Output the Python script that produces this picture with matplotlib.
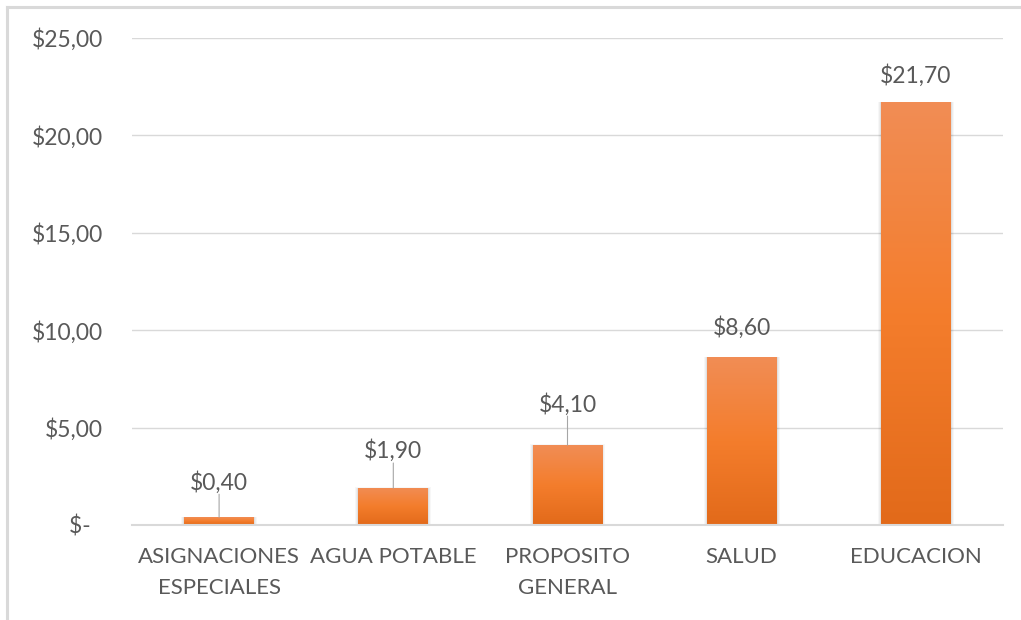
import matplotlib
matplotlib.use("Agg")
import matplotlib.pyplot as plt
import numpy as np
from matplotlib.colors import LinearSegmentedColormap
from matplotlib.patches import Rectangle
from matplotlib.lines import Line2D

categories = ["ASIGNACIONES\nESPECIALES", "AGUA POTABLE", "PROPOSITO\nGENERAL", "SALUD", "EDUCACION"]
values = [0.40, 1.90, 4.10, 8.60, 21.70]
value_labels = ["$0,40", "$1,90", "$4,10", "$8,60", "$21,70"]
yticks = [0, 5, 10, 15, 20, 25]
ytick_labels = ["$-  ", "$5,00", "$10,00", "$15,00", "$20,00", "$25,00"]

# label offsets above bar top (pixels) and whether a leader line is drawn
label_offsets_px = [35, 37, 41, 30, 27]
leaders = [True, True, True, False, False]

plt.rcParams['font.family'] = ['Lato', 'DejaVu Sans']
TXT = "#595959"
GRID = "#D9D9D9"

fig = plt.figure(figsize=(10.21, 6.2), dpi=100)
ax = fig.add_axes([132/1021, 1-525/620, (1003-132)/1021, (525-38)/620])

x = np.arange(len(categories))
bw = 0.40
bars = ax.bar(x, values, width=bw, color="none", edgecolor="none", zorder=3)

cmap = LinearSegmentedColormap.from_list("g", ["#E26A1A", "#F47D2C", "#F18D55"])
grad = np.linspace(0, 1, 256).reshape(-1, 1)
for b in bars:
    x0, w, h = b.get_x(), b.get_width(), b.get_height()
    # soft shadow
    for i, a in enumerate([0.05, 0.04, 0.03]):
        d = 0.006 * (i + 1)
        ax.add_patch(Rectangle((x0 - d, 0), w + 2*d, h + d*2, facecolor="black", alpha=a,
                               edgecolor="none", zorder=2))
    im = ax.imshow(grad, cmap=cmap, aspect="auto", origin="lower",
                   extent=[x0, x0 + w, 0, h], zorder=3)
    clip = Rectangle((x0, 0), w, h, transform=ax.transData)
    im.set_clip_path(clip)

ax.set_xlim(-0.5, len(categories) - 0.5)
ax.set_ylim(0, 25)
ax.set_yticks(yticks)
ax.set_yticklabels(ytick_labels)
ax.set_xticks(x)
ax.set_xticklabels(categories, linespacing=1.7)
ax.tick_params(axis="y", length=0, pad=21, labelsize=16.5, labelcolor=TXT)
ax.tick_params(axis="x", length=0, pad=16, labelsize=16, labelcolor=TXT)
ax.grid(axis="y", color=GRID, linewidth=1.0, zorder=0)
ax.set_axisbelow(True)
for s in ["top", "right", "left"]:
    ax.spines[s].set_visible(False)
ax.spines["bottom"].set_color(GRID)
ax.spines["bottom"].set_linewidth(1.5)
ax.spines["bottom"].set_zorder(4)

for xi, v, lab, off, ld in zip(x, values, value_labels, label_offsets_px, leaders):
    ax.annotate(lab, (xi, v), xytext=(0, off * 0.72), textcoords="offset points",
                ha="center", va="center", fontsize=16.5, color=TXT, zorder=5)
    if ld:
        ax.annotate("", (xi, v), xytext=(0, (off - 12) * 0.72), textcoords="offset points",
                    arrowprops=dict(arrowstyle="-", color="#A6A6A6", lw=0.8,
                                    shrinkA=0, shrinkB=0), zorder=5)

# chart border (top and left visible)
fig.add_artist(Line2D([7/1021, 7/1021], [0, 1-7/620], transform=fig.transFigure,
                      color="#D9D9D9", lw=2.2))
fig.add_artist(Line2D([7/1021, 1], [1-7/620, 1-7/620], transform=fig.transFigure,
                      color="#D9D9D9", lw=2.2))

fig.savefig("out.png", dpi=100)
